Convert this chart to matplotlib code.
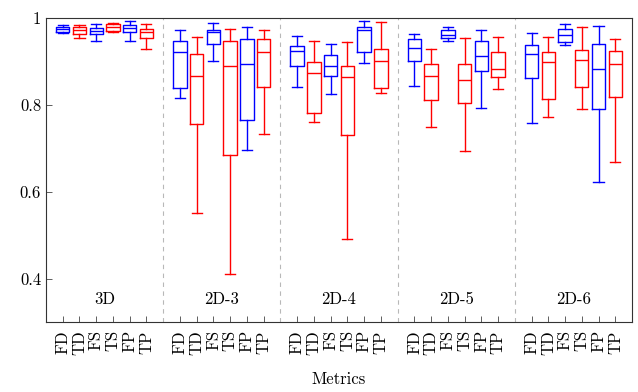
import matplotlib
matplotlib.use("Agg")
import matplotlib.pyplot as plt

plt.rcParams['font.family'] = 'cmr10'
plt.rcParams['axes.formatter.use_mathtext'] = True
plt.rcParams['font.size'] = 12

# groups and metrics
groups = ['3D', '2D-3', '2D-4', '2D-5', '2D-6']
metrics = ['FD', 'TD', 'FS', 'TS', 'FP', 'TP']
colors = ['blue', 'red', 'blue', 'red', 'blue', 'red']

# box stats per group, per metric: (whislo, q1, median, q3, whishi)
stats_3d = [
    (0.965, 0.967, 0.974, 0.979, 0.983),
    (0.953, 0.964, 0.973, 0.979, 0.983),
    (0.948, 0.964, 0.971, 0.977, 0.986),
    (0.967, 0.969, 0.979, 0.987, 0.989),
    (0.948, 0.967, 0.976, 0.983, 0.992),
    (0.928, 0.954, 0.967, 0.974, 0.987),
]
stats_2d3 = [
    (0.816, 0.839, 0.921, 0.946, 0.973),
    (0.550, 0.757, 0.866, 0.918, 0.956),
    (0.902, 0.941, 0.968, 0.973, 0.989),
    (0.411, 0.685, 0.889, 0.947, 0.975),
    (0.695, 0.766, 0.895, 0.952, 0.980),
    (0.733, 0.841, 0.921, 0.952, 0.972),
]
stats_2d4 = [
    (0.841, 0.890, 0.925, 0.936, 0.959),
    (0.761, 0.781, 0.874, 0.899, 0.946),
    (0.824, 0.867, 0.889, 0.914, 0.940),
    (0.492, 0.731, 0.865, 0.889, 0.944),
    (0.896, 0.921, 0.973, 0.979, 0.993),
    (0.828, 0.839, 0.901, 0.929, 0.990),
]
stats_2d5 = [
    (0.844, 0.902, 0.930, 0.952, 0.963),
    (0.750, 0.811, 0.866, 0.895, 0.928),
    (0.947, 0.953, 0.962, 0.972, 0.979),
    (0.693, 0.805, 0.857, 0.895, 0.953),
    (0.792, 0.879, 0.912, 0.947, 0.973),
    (0.836, 0.864, 0.883, 0.922, 0.956),
]
stats_2d6 = [
    (0.759, 0.862, 0.916, 0.938, 0.966),
    (0.772, 0.813, 0.898, 0.921, 0.956),
    (0.937, 0.944, 0.960, 0.974, 0.986),
    (0.790, 0.841, 0.904, 0.927, 0.979),
    (0.622, 0.790, 0.882, 0.940, 0.982),
    (0.668, 0.818, 0.895, 0.923, 0.952),
]
all_stats = [stats_3d, stats_2d3, stats_2d4, stats_2d5, stats_2d6]

fig = plt.figure(figsize=(6.38, 3.92), dpi=100)
ax = fig.add_axes([46/638, 1 - 322/392, 586/638, 304/392])

positions = []
labels = []
for g, gstats in enumerate(all_stats):
    for k, s in enumerate(gstats):
        pos = 7 * g + k + 1
        positions.append(pos)
        labels.append(metrics[k])
        st = dict(whislo=s[0], q1=s[1], med=s[2], q3=s[3], whishi=s[4], fliers=[])
        c = colors[k]
        ax.bxp([st], positions=[pos], widths=0.8, showfliers=False,
               boxprops=dict(color=c, linewidth=1),
               whiskerprops=dict(color=c, linewidth=1),
               capprops=dict(color=c, linewidth=1),
               medianprops=dict(color=c, linewidth=1),
               capwidths=0.6, manage_ticks=False)
    ax.text(7 * g + 3.5, 0.353, groups[g], ha='center', va='center', fontsize=12)

for g in range(1, len(groups)):
    ax.axvline(7 * g, color='#b8b8b8', linestyle=(0, (4, 4)), linewidth=0.8)

ax.set_xlim(0, 35)
ax.set_ylim(0.3, 1.0)
ax.set_xticks(positions)
ax.set_xticklabels(labels, rotation=90, fontsize=12)
ax.set_yticks([0.4, 0.6, 0.8, 1.0])
ax.set_yticklabels(['0.4', '0.6', '0.8', '1'], fontsize=12)
ax.tick_params(direction='in', length=4, width=0.6, color='#444444')
ax.tick_params(axis='x', pad=6)
for sp in ax.spines.values():
    sp.set_color('#333333')
    sp.set_linewidth(0.8)
ax.set_xlabel('Metrics', fontsize=12, labelpad=12)

fig.savefig('out.png', dpi=100)
